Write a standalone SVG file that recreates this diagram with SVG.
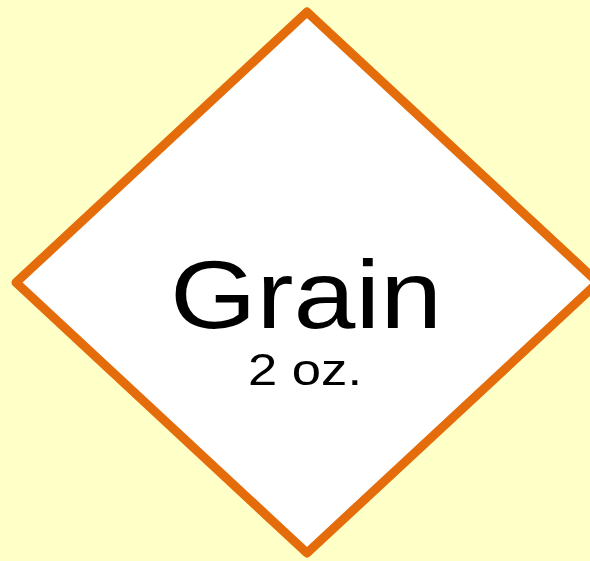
<svg xmlns="http://www.w3.org/2000/svg" width="590" height="561" viewBox="0 0 590 561">
<style>
.bg{fill:#FFFFC8}
.shape{fill:#FFFFFF;stroke:#E46C0A;stroke-width:9;stroke-linejoin:round}
.t{font-family:"Liberation Sans",Arial,sans-serif;fill:#000000;text-anchor:middle}
</style>
<rect class="bg" x="0" y="0" width="590" height="561"/>
<g id="node-grain">
<polygon class="shape" points="307,12 598,282.5 307,553 16,282.5"/>
<text class="t" x="306" y="328" font-size="96" textLength="272" lengthAdjust="spacingAndGlyphs">Grain</text>
<text class="t" x="305" y="385" font-size="45" textLength="114" lengthAdjust="spacingAndGlyphs">2 oz.</text>
</g>
<g id="connectors"/>
</svg>
